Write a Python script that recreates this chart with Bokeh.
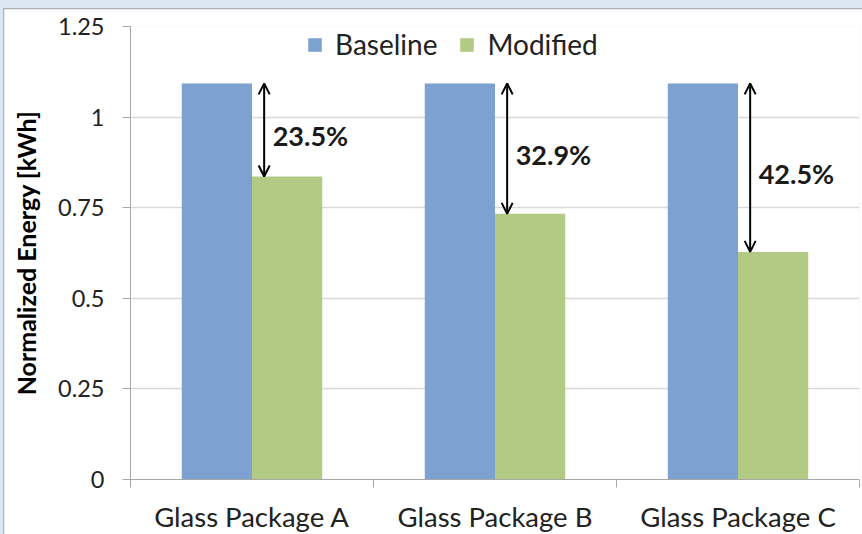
import numpy as np
from bokeh.plotting import figure
from bokeh.layouts import column
from bokeh.models import ColumnDataSource, FixedTicker, Arrow, OpenHead, Legend, LegendItem
from bokeh.core.properties import value
from bokeh.embed import file_html
from bokeh.resources import INLINE

categories = ["Glass Package A", "Glass Package B", "Glass Package C"]
baseline = [1.093, 1.093, 1.093]
modified = [0.836, 0.733, 0.628]
reduction_labels = ["23.5%", "32.9%", "42.5%"]
y_ticks = [0, 0.25, 0.5, 0.75, 1.0, 1.25]
y_tick_labels = ["0", "0.25", "0.5", "0.75", "1", "1.25"]

FONT = "Lato"
BLUE = "#7DA2D2"
GREEN = "#B2CA83"

idx = np.arange(len(categories))
bw = 0.289
src = ColumnDataSource(dict(
    xb=idx + 0.5 - bw / 2,
    xm=idx + 0.5 + bw / 2,
    base=baseline,
    mod=modified,
    xa=idx + 0.5 + 0.05,
    xt=idx + 0.5 + 0.085,
    yt=(np.array(baseline) + np.array(modified)) / 2 - 0.016,
    lab=reduction_labels,
))

p = figure(width=859, height=526, output_backend="svg", toolbar_location=None,
           x_range=(0, 3), y_range=(0, 1.25),
           min_border_left=126, min_border_right=4, min_border_top=17, min_border_bottom=45)
p.outline_line_color = None
p.background_fill_color = "white"
p.border_fill_color = "white"
p.styles = {"border-left": "1px solid #B0B0B0", "border-top": "1px solid #B0B0B0"}

rb = p.vbar(x="xb", top="base", width=bw, bottom=0, source=src, fill_color=BLUE, line_color=None)
rm = p.vbar(x="xm", top="mod", width=bw, bottom=0, source=src, fill_color=GREEN, line_color=None)

arrow = Arrow(start=OpenHead(size=11, line_width=2, line_color="black"),
              end=OpenHead(size=11, line_width=2, line_color="black"),
              x_start="xa", y_start="base", x_end="xa", y_end="mod",
              source=src, line_width=2, line_color="black")
p.add_layout(arrow)

p.text(x="xt", y="yt", text="lab", source=src, text_font=value(FONT), text_font_style="bold",
       text_font_size="27px", text_color="#1a1a1a", text_baseline="middle", text_align="left")

# axes
p.xaxis.ticker = FixedTicker(ticks=list(idx + 0.5), minor_ticks=list(range(len(categories) + 1)))
p.xaxis.major_label_overrides = {float(i + 0.5): c for i, c in zip(idx, categories)}
p.xaxis.major_tick_out = 0
p.xaxis.major_tick_in = 0
p.xaxis.minor_tick_out = 8
p.xaxis.minor_tick_in = 0
p.xaxis.minor_tick_line_color = "#A6A6A6"
p.xaxis.axis_line_color = "#A6A6A6"
p.xaxis.major_label_text_font = FONT
p.xaxis.major_label_text_font_size = "27.5px"
p.xaxis.major_label_text_color = "#222222"
p.xaxis.major_label_standoff = 12

p.yaxis.ticker = FixedTicker(ticks=y_ticks, minor_ticks=[])
p.yaxis.major_label_overrides = {float(t): l for t, l in zip(y_ticks, y_tick_labels)}
p.yaxis.major_tick_out = 8
p.yaxis.major_tick_in = 0
p.yaxis.major_tick_line_color = "#A6A6A6"
p.yaxis.axis_line_color = "#A6A6A6"
p.yaxis.major_label_text_font = FONT
p.yaxis.major_label_text_font_size = "23.5px"
p.yaxis.major_label_text_color = "#222222"
p.yaxis.major_label_standoff = 18
p.yaxis.axis_label = "Normalized Energy [kWh]"
p.yaxis.axis_label_text_font = FONT
p.yaxis.axis_label_text_font_style = "bold"
p.yaxis.axis_label_text_font_size = "25px"
p.yaxis.axis_label_text_color = "black"
p.yaxis.axis_label_standoff = 14

p.xgrid.grid_line_color = None
p.ygrid.ticker = FixedTicker(ticks=y_ticks)
p.ygrid.grid_line_color = "#D9D9D9"
p.ygrid.grid_line_width = 1.5

legend = Legend(items=[LegendItem(label="Baseline", renderers=[rb]),
                       LegendItem(label="Modified", renderers=[rm])],
                orientation="horizontal", location=(176, 418),
                glyph_width=17, glyph_height=17, label_standoff=12, spacing=21,
                padding=0, margin=0, border_line_color=None, background_fill_alpha=0,
                label_text_font=FONT, label_text_font_size="28px", label_text_color="#222222")
p.add_layout(legend)

page = column(p, styles={"background-color": "#DCE6F2", "padding-top": "8px", "padding-left": "3px"})

open("out.html", "w").write(file_html(page, INLINE))
